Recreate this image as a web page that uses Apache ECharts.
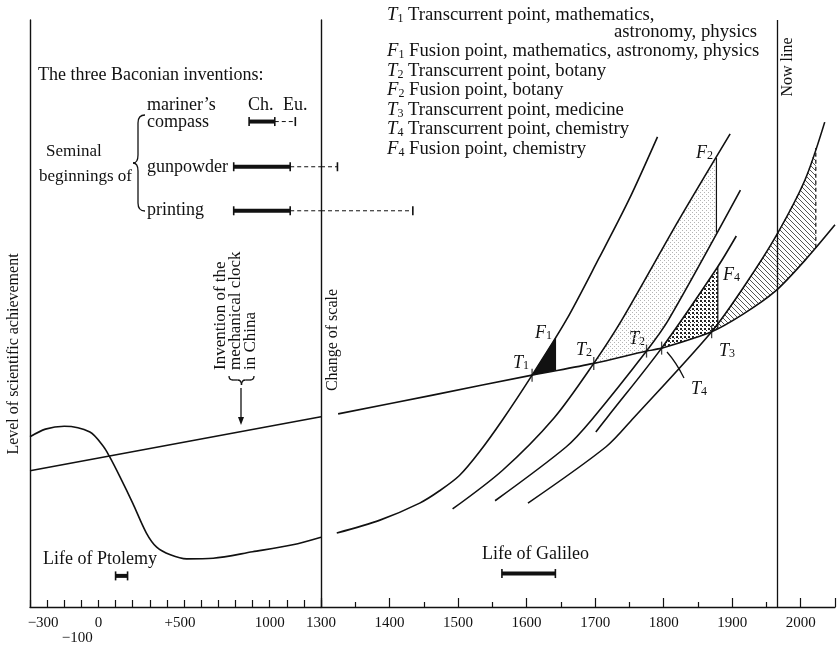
<!DOCTYPE html>
<html>
<head>
<meta charset="utf-8">
<title>Grand titration</title>
<script src="https://cdn.jsdelivr.net/npm/echarts@6/dist/echarts.min.js"></script>
<style>
  html, body { margin: 0; padding: 0; background: #fff; }
  #main { width: 838px; height: 648px; }
</style>
</head>
<body>
<div id="main"></div>
<script>
// x = year (two scales, split at 1300), y = "level" on an arbitrary 0-100 scale
const SERIF = '"Liberation Serif", "DejaVu Serif", serif'
const INK = '#111'

const chinaLeft = [[-400, 23.2], [1300, 32.4]]
const westLeft = [[-400, 29.0], [-310, 30.3], [-200, 30.8], [-50, 29.8], [30, 27.3], [65, 25.6],
  [125, 22.2], [200, 17.7], [280, 12.6], [340, 10.2], [420, 8.9], [515, 8.2], [670, 8.3],
  [900, 9.4], [1135, 10.6], [1300, 11.9]]

const chinaRight = [[1325, 32.9], [1463, 36.1], [1608, 39.5], [1698, 41.5], [1775, 43.6],
  [1797, 44.1], [1870, 46.9], [1916, 49.9], [1963, 53.8], [2008, 59.3], [2050, 65.1]]
const curveA = [[1323, 12.6], [1386, 14.8], [1444, 17.7], [1473, 19.8], [1502, 22.4], [1531, 26.4],
  [1565, 31.9], [1608, 39.5], [1658, 48.9], [1706, 59.5], [1749, 69.3], [1791, 80.1]]
const curveB = [[1492, 16.7], [1565, 23.3], [1640, 32.2], [1698, 41.5], [1739, 48.9], [1822, 65.9], [1897, 80.6]]
const curveC = [[1554, 18.1], [1658, 27.3], [1695, 31.9], [1775, 43.6], [1807, 48.9], [1912, 71.0]]
const curveD = [[1701, 29.8], [1717, 32.2], [1797, 44.1], [1878, 57.8], [1906, 63.2]]
const curveE = [[1602, 17.7], [1716, 27.3], [1756, 32.2], [1870, 46.9], [1919, 54.9], [1963, 63.0],
  [2006, 72.7], [2035, 82.6]]

const tPoints = [[1608, 39.5], [1698, 41.5], [1775, 43.6], [1797, 44.1], [1870, 46.9]]
const f1Top = [1643, 46.1], f1Base = [1643, 40.3]
const f2Top = [1877, 76.5], f2Base = [1877, 63.8]
const f4Top = [1879, 58.0], f4Base = [1879, 47.5]
const dashTop = [2022, 78.2], dashBase = [2022, 61.2]
const nowYear = 1966

const inventionLevels = [82.7, 75.0, 67.5]
const chinaSpans = [[880, 1030], [790, 1120], [790, 1120]]
const europeEnds = [1150, 1324, 1434]
const ptolemy = [100, 170], ptolemyLevel = 5.3
const galileo = [1564, 1642], galileoLevel = 5.7

const seg = (c, a, b) => c.filter(p => p[0] >= a && p[0] <= b)
const fills = [
  [tPoints[0], f1Top, f1Base],
  [...seg(chinaRight, 1698, 1775), ...seg(curveC, 1775, f2Base[0]), f2Base, f2Top, ...seg(curveB, 1698, f2Top[0]).reverse()],
  [...seg(curveD, 1797, f4Top[0]), f4Top, f4Base, ...seg(chinaRight, 1797, f4Base[0]).reverse()],
  [...seg(curveE, 1870, dashTop[0]), dashTop, dashBase, ...seg(chinaRight, 1870, dashBase[0]).reverse()]
]

function pattern(w, h, draw) {
  const c = document.createElement('canvas')
  c.width = w; c.height = h
  draw(c.getContext('2d'))
  return { image: c, repeat: 'repeat' }
}
const fillStyles = [
  INK,
  pattern(4, 4, ctx => { ctx.fillStyle = '#b4b4b4'; ctx.fillRect(0, 0, 1, 1); ctx.fillRect(2, 2, 1, 1) }),
  pattern(4, 4, ctx => { ctx.fillStyle = '#222'; ctx.fillRect(0, 0, 2, 2); ctx.fillRect(2, 2, 1, 1) }),
  pattern(5, 5, ctx => {
    ctx.strokeStyle = '#555'; ctx.lineWidth = 1
    ctx.beginPath(); ctx.moveTo(-1, -1); ctx.lineTo(6, 6); ctx.moveTo(-1, 4); ctx.lineTo(1, 6); ctx.moveTo(4, -1); ctx.lineTo(6, 1); ctx.stroke()
  })
]

function curve(data, grid, extra) {
  return Object.assign({
    type: 'line', data: data, xAxisIndex: grid, yAxisIndex: grid, smooth: 0.3,
    showSymbol: false, symbol: 'none', z: 3,
    lineStyle: { color: INK, width: 1.6 }
  }, extra || {})
}

function span(a, b, level, grid, solid, caps) {
  return {
    type: 'line', xAxisIndex: grid, yAxisIndex: grid, z: 3,
    data: [
      { value: [a, level], symbol: caps[0] ? 'rect' : 'none' },
      { value: [b, level], symbol: caps[1] ? 'rect' : 'none' }
    ],
    symbolSize: [1.6, 9], itemStyle: { color: INK },
    lineStyle: solid ? { color: INK, width: 4 } : { color: INK, width: 1, type: [4, 3] }
  }
}

const series = [
  curve(chinaLeft, 0, { smooth: false }),
  curve(westLeft, 0),
  curve(chinaRight, 1, {
    markLine: {
      silent: true, symbol: ['none', 'none'], label: { show: false },
      lineStyle: { color: INK, width: 1.3, type: 'solid' },
      data: [{ xAxis: nowYear }]
    }
  }),
  curve(curveA, 1), curve(curveB, 1), curve(curveC, 1), curve(curveD, 1), curve(curveE, 1),
  curve([f2Base, f2Top], 1, { smooth: false, lineStyle: { color: INK, width: 1.2 } }),
  curve([f4Base, f4Top], 1, { smooth: false, lineStyle: { color: INK, width: 1.2 } }),
  curve([dashBase, dashTop], 1, { smooth: false, lineStyle: { color: INK, width: 1.2, type: [4, 3] } }),
  {
    type: 'scatter', xAxisIndex: 1, yAxisIndex: 1, data: tPoints, z: 4,
    symbol: 'rect', symbolSize: [1.3, 13], itemStyle: { color: INK }
  },
  {
    type: 'custom', xAxisIndex: 1, yAxisIndex: 1, z: 1,
    data: fills.map((f, i) => [f[0][0], f[0][1], i]),
    encode: { x: 0, y: 1 },
    renderItem: function (params, api) {
      const pts = fills[params.dataIndex].map(p => api.coord(p))
      return { type: 'polygon', shape: { points: pts }, style: { fill: fillStyles[params.dataIndex], stroke: null } }
    }
  },
  span(ptolemy[0], ptolemy[1], ptolemyLevel, 0, true, [1, 1]),
  span(galileo[0], galileo[1], galileoLevel, 1, true, [1, 1])
]

inventionLevels.forEach(function (lv, i) {
  const s = chinaSpans[i], end = europeEnds[i]
  series.push(span(s[0], s[1], lv, 0, true, [1, 1]))
  if (end > 1300) {
    series.push(span(s[1], 1300, lv, 0, false, [0, 0]))
    series.push(span(1300, end, lv, 1, false, [0, 1]))
  } else {
    series.push(span(s[1], end, lv, 0, false, [0, 1]))
  }
})

const leftTickText = { '-300': '{m|−300}', '-100': '\n{m|−100}', '0': '0', '500': '{m|+500}', '1000': '1000', '1300': '1300' }
const labelFont = { fontFamily: SERIF, fontSize: 15, color: INK }

function txt(x, y, text, extra) {
  const st = Object.assign({ text: text, fontFamily: SERIF, fontSize: 18, fill: INK, align: 'left', verticalAlign: 'middle' },
    extra && extra.style || {})
  return Object.assign({ type: 'text', x: x, y: y, silent: true, style: st }, extra && extra.rotation ? { rotation: extra.rotation } : {})
}
function richTF(size) {
  return {
    i: { fontFamily: SERIF, fontStyle: 'italic', fontSize: size, lineHeight: 20, verticalAlign: 'bottom' },
    s: { fontFamily: SERIF, fontSize: 12, lineHeight: 14, verticalAlign: 'bottom' },
    n: { fontFamily: SERIF, fontSize: size, lineHeight: 20, verticalAlign: 'bottom' }
  }
}
function tf(x, y, letter, sub, rest, size) {
  const t = '{i|' + letter + '}{s|' + sub + '}' + (rest ? '{n|' + rest + '}' : '')
  return txt(x, y, t, { style: { rich: richTF(size || 18) } })
}

// little drawing helpers for braces and pointers
const pen = { stroke: INK, lineWidth: 1.3, fill: null }
function ln(x1, y1, x2, y2) { return { type: 'line', silent: true, shape: { x1, y1, x2, y2 }, style: pen } }
function qc(x1, y1, cx, cy, x2, y2) { return { type: 'bezierCurve', silent: true, shape: { x1, y1, x2, y2, cpx1: cx, cpy1: cy }, style: pen } }
// vertical brace opening to the right, tip pointing left
function braceV(x, y1, y2, tipX) {
  const m = (y1 + y2) / 2, r = 8
  return [qc(x + 7, y1, x, y1, x, y1 + r), ln(x, y1 + r, x, m - r), qc(x, m - r, x, m, tipX, m),
    qc(tipX, m, x, m, x, m + r), ln(x, m + r, x, y2 - r), qc(x, y2 - r, x, y2, x + 7, y2)]
}
// horizontal brace opening upward, tip pointing down
function braceH(x1, x2, y, tipY) {
  const m = (x1 + x2) / 2, r = 4
  return [qc(x1, y - 4, x1, y, x1 + r, y), ln(x1 + r, y, m - r, y), qc(m - r, y, m, y, m, tipY),
    qc(m, tipY, m, y, m + r, y), ln(m + r, y, x2 - r, y), qc(x2 - r, y, x2, y, x2, y - 4)]
}

const legendX = 387, legendSize = 18.7
const graphics = [
  tf(legendX, 14.5, 'T', '1', ' Transcurrent point, mathematics,', legendSize),
  txt(757, 32, 'astronomy, physics', { style: { align: 'right', fontSize: legendSize } }),
  tf(legendX, 51, 'F', '1', ' Fusion point, mathematics, astronomy, physics', legendSize),
  tf(legendX, 70.5, 'T', '2', ' Transcurrent point, botany', legendSize),
  tf(legendX, 90, 'F', '2', ' Fusion point, botany', legendSize),
  tf(legendX, 109.5, 'T', '3', ' Transcurrent point, medicine', legendSize),
  tf(legendX, 129, 'T', '4', ' Transcurrent point, chemistry', legendSize),
  tf(legendX, 148.5, 'F', '4', ' Fusion point, chemistry', legendSize),

  txt(38, 75, 'The three Baconian inventions:'),
  txt(147, 105, 'mariner\u2019s'),
  txt(147, 122, 'compass'),
  txt(248, 105, 'Ch.'),
  txt(283, 105, 'Eu.'),
  txt(46, 152, 'Seminal', { style: { fontSize: 17 } }),
  txt(39, 177, 'beginnings of', { style: { fontSize: 17 } }),
  txt(147, 167, 'gunpowder'),
  txt(147, 210, 'printing'),
  ...braceV(138, 115, 211, 133),

  txt(43, 559, 'Life of Ptolemy'),
  txt(482, 554, 'Life of Galileo'),

  txt(14, 354, 'Level of scientific achievement', { rotation: Math.PI / 2, style: { align: 'center', fontSize: 16 } }),
  txt(333, 340, 'Change of scale', { rotation: Math.PI / 2, style: { align: 'center', fontSize: 16 } }),
  txt(788, 67, 'Now line', { rotation: Math.PI / 2, style: { align: 'center', fontSize: 16 } }),

  txt(221, 370, 'Invention of the', { rotation: Math.PI / 2, style: { fontSize: 17 } }),
  txt(236, 370, 'mechanical clock', { rotation: Math.PI / 2, style: { fontSize: 17 } }),
  txt(251, 370, 'in China', { rotation: Math.PI / 2, style: { fontSize: 17 } }),
  ...braceH(229, 254, 380, 385),
  ln(241, 388, 241, 420),
  { type: 'polygon', silent: true, shape: { points: [[238, 417], [244, 417], [241, 425]] }, style: { fill: INK } },

  tf(513, 362, 'T', '1', ''),
  tf(535, 332, 'F', '1', ''),
  tf(576, 349, 'T', '2', ''),
  tf(629, 338, 'T', '2', ''),
  tf(719, 350, 'T', '3', ''),
  tf(691, 388, 'T', '4', ''),
  tf(696, 152, 'F', '2', ''),
  tf(723, 274, 'F', '4', ''),
  qc(667, 352, 676, 362, 684, 378)
]

const axisLine = { show: true, onZero: false, lineStyle: { color: INK, width: 1.4 } }
const hidden = { show: false }

const option = {
  animation: false,
  backgroundColor: '#fff',
  grid: [
    { left: 30, right: 517, top: 20, bottom: 41 },
    { left: 321, right: 1, top: 20, bottom: 41 }
  ],
  xAxis: [
    {
      gridIndex: 0, type: 'value', min: -400, max: 1300, interval: 100,
      axisLine: axisLine, splitLine: hidden,
      axisTick: { show: true, inside: true, length: 7, lineStyle: { color: INK, width: 1.2 } },
      axisLabel: {
        margin: 9, ...labelFont, showMinLabel: true, showMaxLabel: true,
        formatter: v => leftTickText[String(v)] || '',
        rich: { m: { ...labelFont, padding: [0, 8, 0, 0] } }
      }
    },
    {
      gridIndex: 1, type: 'value', min: 1300, max: 2050, interval: 100,
      axisLine: axisLine, splitLine: hidden,
      axisTick: { show: true, inside: true, length: 9, lineStyle: { color: INK, width: 1.2 } },
      minorTick: { show: true, splitNumber: 2, length: 5, lineStyle: { color: INK, width: 1.2 } },
      axisLabel: { margin: 9, ...labelFont, formatter: v => (v > 1300 && v <= 2000 ? String(v) : '') }
    }
  ],
  yAxis: [
    { gridIndex: 0, type: 'value', min: 0, max: 100, axisLine: axisLine, axisTick: hidden, axisLabel: hidden, splitLine: hidden },
    { gridIndex: 1, type: 'value', min: 0, max: 100, axisLine: axisLine, axisTick: hidden, axisLabel: hidden, splitLine: hidden }
  ],
  graphic: graphics,
  series: series
}

const chart = echarts.init(document.getElementById('main'))
chart.setOption(option)
</script>
</body>
</html>
